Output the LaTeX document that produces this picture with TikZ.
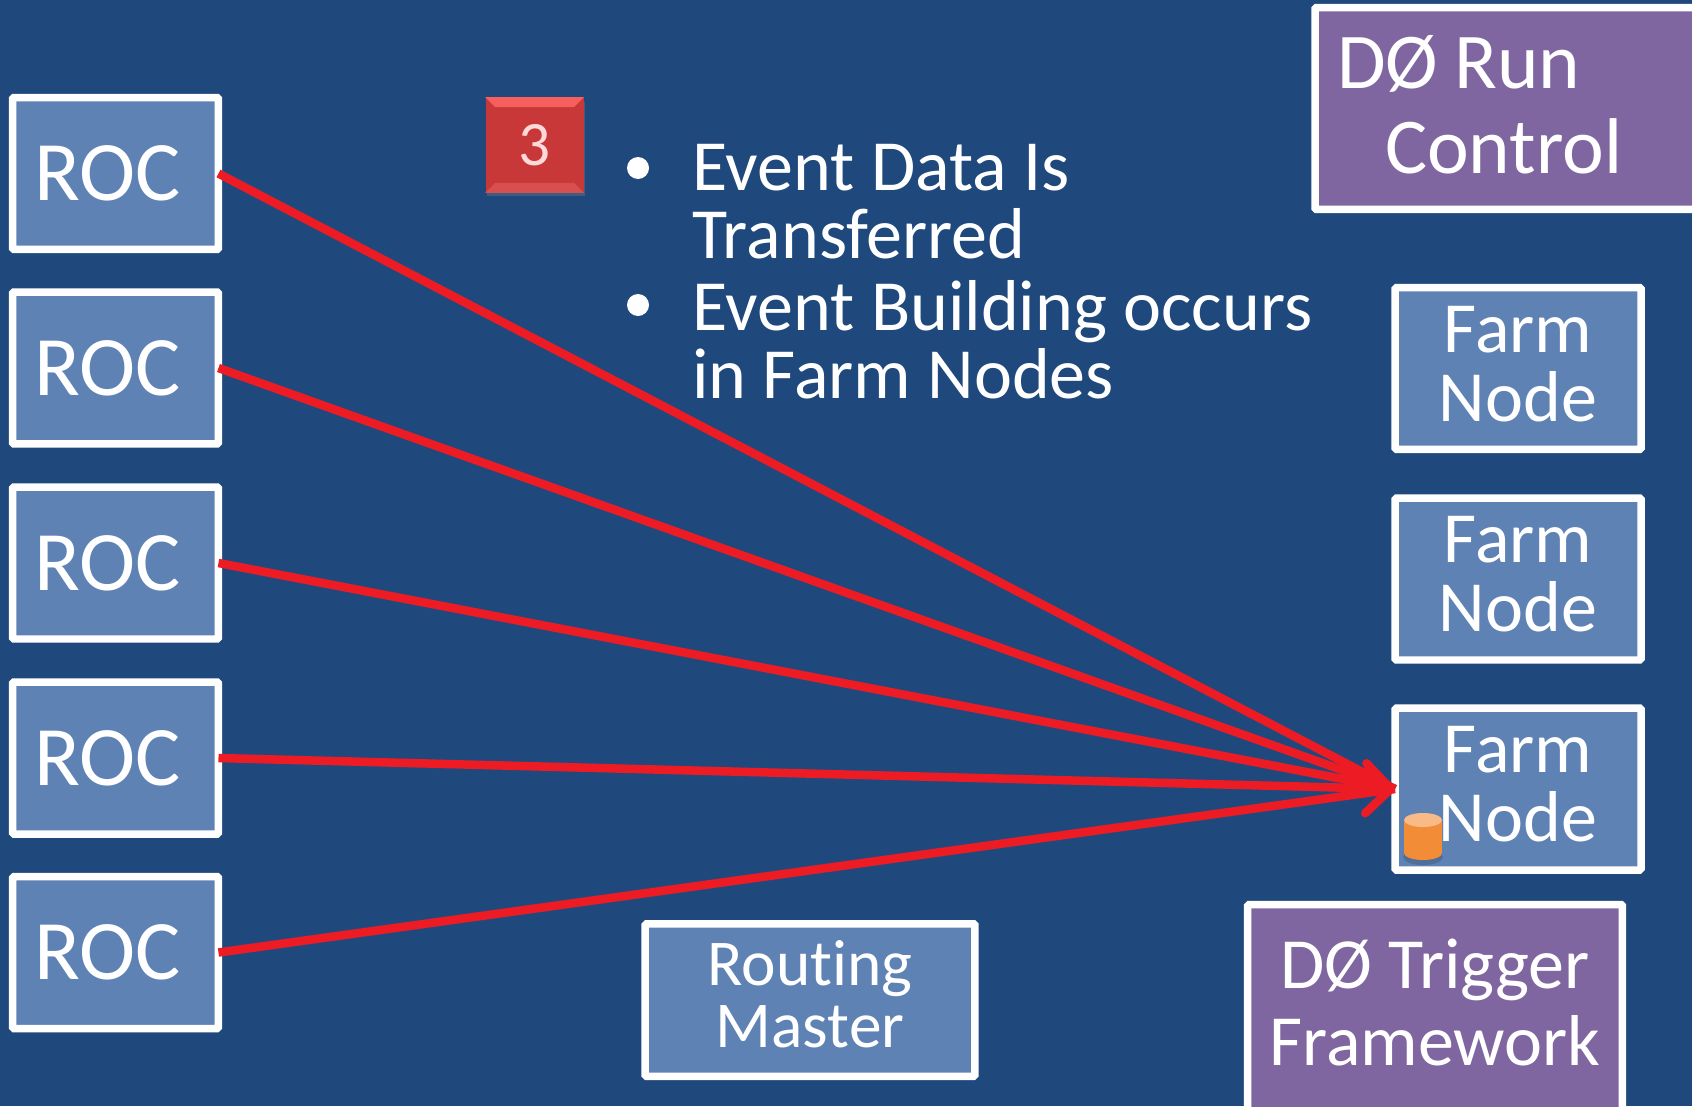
\documentclass[tikz,border=0pt]{standalone}
\usepackage{fontspec}
\setmainfont[Ligatures=NoCommon]{Carlito}
\usepackage{tikz}
\usetikzlibrary{shapes.geometric, arrows.meta, positioning, shadows}
\definecolor{slidebg}{RGB}{31,73,125}
\definecolor{boxblue}{RGB}{95,130,181}
\definecolor{boxpurple}{RGB}{128,102,160}
\definecolor{linkred}{RGB}{237,28,36}
\definecolor{badgered}{RGB}{200,56,56}
\definecolor{diskorange}{RGB}{243,140,55}

\begin{document}
\begin{tikzpicture}[x=0.02cm, y=-0.02cm,
    basebox/.style={draw=white, line width=0.15cm, rounded corners=0.03cm, outer sep=0, text=white, align=center,
          drop shadow={shadow xshift=0.03cm, shadow yshift=-0.05cm, opacity=0.3}},
    rocbox/.style={basebox, fill=boxblue, minimum width=4.12cm, minimum height=3.04cm, text width=3.24cm,
          inner xsep=0.44cm, align=left, font=\fontsize{48.2}{52}\selectfont},
    farmbox/.style={basebox, fill=boxblue, minimum width=4.92cm, minimum height=3.24cm, text depth=0.2cm,
          font=\fontsize{41}{39.3}\selectfont},
    masterbox/.style={basebox, fill=boxblue, minimum width=6.6cm, minimum height=3.05cm, text depth=0.24cm,
          font=\fontsize{37.2}{35.6}\selectfont},
    purplebox/.style={basebox, fill=boxpurple},
    bullettext/.style={anchor=base west, text=white, inner sep=0, font=\fontsize{41}{38.7}\selectfont, align=left},
    bulletdot/.style={circle, fill=white, minimum size=0.44cm, inner sep=0},
    datalink/.style={draw=linkred, line width=0.17cm},
    datatip/.style={datalink, -{Straight Barb[length=0.5cm, width=1cm, round]}}
]
    \useasboundingbox (0,0) rectangle (1692,1106);
    \fill[slidebg] (0,0) rectangle (1692,1106);

    \node[rocbox] (roca) at (115.5,173.5) {ROC};
    \node[rocbox] (rocb) at (115.5,368) {ROC};
    \node[rocbox] (rocc) at (115.5,563) {ROC};
    \node[rocbox] (rocd) at (115.5,758) {ROC};
    \node[rocbox] (roce) at (115.5,952.5) {ROC};

    \node[farmbox] (farma) at (1518,368.5) {Farm\\Node};
    \node[farmbox] (farmb) at (1518,579) {Farm\\Node};
    \node[farmbox] (farmc) at (1518,789) {Farm\\Node};

    \node[masterbox] (master) at (810,1000) {Routing\\Master};

    \node[purplebox, anchor=west, text width=7.6cm, inner xsep=0.44cm, align=left, text depth=1.85cm,
          minimum height=4.04cm, font=\fontsize{45}{48}\selectfont] (runctrl) at (1315,108.5)
          {DØ\hspace{-0.2cm} Run\\\hspace*{0.96cm}Control};
    \node[purplebox, minimum width=7.5cm, minimum height=4.3cm, text depth=0.39cm,
          font=\fontsize{41}{43.8}\selectfont] (trigger) at (1435,1012) {DØ Trigger\\Framework};

    \node[fill=badgered, minimum width=1.96cm, minimum height=1.9cm, inner sep=0, text=white!85!red,
          font=\fontsize{36}{36}\selectfont,
          drop shadow={shadow xshift=0.02cm, shadow yshift=-0.08cm, opacity=0.35}] (badge) at (534.5,145) {3};
    \fill[red!60!white!85!badgered] (badge.north west) -- (badge.north east)
        -- ([xshift=-0.2cm, yshift=-0.2cm]badge.north east) -- ([xshift=0.2cm, yshift=-0.2cm]badge.north west) -- cycle;
    \fill[badgered!85!red!85!white] (badge.south west) -- (badge.south east)
        -- ([xshift=-0.2cm, yshift=0.2cm]badge.south east) -- ([xshift=0.2cm, yshift=0.2cm]badge.south west) -- cycle;

    \node[bulletdot] (dota) at (638,168) {};
    \node[bullettext] (eventdata) at (692,258) {Event Data Is\\Transferred};
    \node[bulletdot] (dotb) at (638,305) {};
    \node[bullettext] (eventbuild) at (692,398) {Event Building occurs\\in Farm Nodes};

    \fill[black, opacity=0.15] (1423,857) ellipse [x radius=20, y radius=8];
    \fill[diskorange] (1404,820) rectangle (1442,853);
    \fill[diskorange] (1423,853) ellipse [x radius=19, y radius=7];
    \fill[diskorange!60!white] (1423,820) ellipse [x radius=19, y radius=7];

    \draw[datalink] (roca.east) -- (farmc.west);
    \draw[datalink] (rocb.east) -- (farmc.west);
    \draw[datalink] (rocc.east) -- (farmc.west);
    \draw[datalink] (roce.east) -- (farmc.west);
    \draw[datatip] (rocd.east) -- (farmc.west);
\end{tikzpicture}
\end{document}
